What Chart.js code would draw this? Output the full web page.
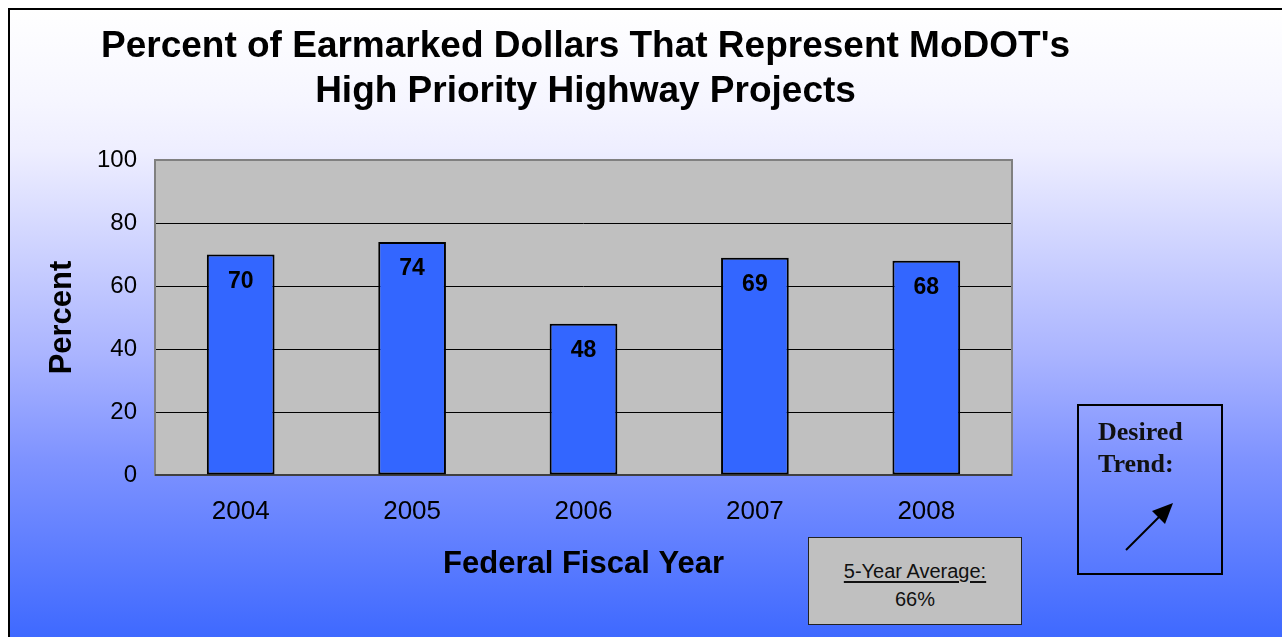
<!DOCTYPE html>
<html>
<head>
<meta charset="utf-8">
<script src="https://cdn.jsdelivr.net/npm/chart.js@4.4.0/dist/chart.umd.min.js"></script>
<style>
  html, body { margin: 0; padding: 0; background: #fff; overflow: hidden; }
  #page {
    position: absolute; left: 8px; top: 8px; width: 1290px; height: 640px;
    border-left: 2px solid #000; border-top: 2px solid #000;
    background: linear-gradient(to bottom, #ffffff 0%, #f6f6ff 14%, #eeeeff 22%, #aab4ff 54%, #7f93ff 70%, #3a66ff 100%);
  }
  #wrap { position: absolute; left: 0; top: 0; width: 1282px; height: 637px; }
  .avg {
    position: absolute; left: 808px; top: 537px; width: 214px; height: 88px;
    background: #c0c0c0; border: 1px solid #222;
    font: 20px "Liberation Sans", Arial, sans-serif; text-align: center; line-height: 28px;
    padding-top: 19px; box-sizing: border-box; color: #111;
  }
  .avg u { text-decoration-thickness: 2px; text-underline-offset: 3px; }
  .trend {
    position: absolute; left: 1077px; top: 404px; width: 146px; height: 171px;
    border: 2px solid #000; box-sizing: border-box;
  }
  .trend .t {
    position: absolute; left: 19px; top: 10px;
    font: bold 26px "Liberation Serif", "Times New Roman", serif; line-height: 32px; color: #111;
  }
  .trend svg { position: absolute; left: 0; top: 0; }
</style>
</head>
<body>
<div id="page"></div>
<div id="wrap"><canvas id="chart" width="1282" height="637"></canvas></div>
<div class="avg"><u>5-Year Average:</u><br>66%</div>
<div class="trend">
  <div class="t">Desired<br>Trend:</div>
  <svg width="146" height="171">
    <line x1="47" y1="144" x2="82" y2="109" stroke="#000" stroke-width="2"/>
    <polygon points="94,97 73,105 86,118" fill="#000"/>
  </svg>
</div>
<script>
var years = ['2004', '2005', '2006', '2007', '2008'];
var percents = [70, 74, 48, 69, 68];
var yTicks = [0, 20, 40, 60, 80, 100];
var titleLines = ["Percent of Earmarked Dollars That Represent MoDOT's", 'High Priority Highway Projects'];

var FONT = '"Liberation Sans", Arial, sans-serif';

var plotFrame = {
  id: 'plotFrame',
  beforeDraw: function (chart) {
    var a = chart.chartArea, ctx = chart.ctx;
    ctx.save();
    ctx.fillStyle = '#c0c0c0';
    ctx.fillRect(a.left, a.top, a.right - a.left, a.bottom - a.top);
    // title, centred over the plot area
    ctx.font = 'bold 37px ' + FONT;
    ctx.fillStyle = '#000';
    ctx.textAlign = 'center';
    ctx.textBaseline = 'middle';
    var cx = (a.left + a.right) / 2 + 2;
    titleLines.forEach(function (t, i) { ctx.fillText(t, cx, 47 + i * 45); });
    ctx.restore();
  },
  beforeDatasetsDraw: function (chart) {
    var a = chart.chartArea, ctx = chart.ctx;
    ctx.save();
    ctx.strokeStyle = '#808080';
    ctx.lineWidth = 2;
    ctx.strokeRect(a.left, a.top, a.right - a.left, a.bottom - a.top);
    ctx.strokeStyle = '#404040';
    ctx.beginPath();
    ctx.moveTo(a.left, a.bottom);
    ctx.lineTo(a.right, a.bottom);
    ctx.stroke();
    ctx.restore();
  },
  afterDatasetsDraw: function (chart) {
    var ctx = chart.ctx;
    var meta = chart.getDatasetMeta(0);
    ctx.save();
    ctx.font = 'bold 23px ' + FONT;
    ctx.fillStyle = '#000';
    ctx.textAlign = 'center';
    ctx.textBaseline = 'middle';
    meta.data.forEach(function (bar, i) {
      ctx.fillText(String(percents[i]), bar.x, bar.y + 27);
    });
    ctx.restore();
  }
};

new Chart(document.getElementById('chart').getContext('2d'), {
  type: 'bar',
  data: {
    labels: years,
    datasets: [{
      data: percents,
      backgroundColor: '#3366ff',
      borderColor: '#000',
      borderWidth: 2,
      borderSkipped: false,
      categoryPercentage: 1,
      barPercentage: 0.395
    }]
  },
  options: {
    responsive: false,
    animation: false,
    layout: { padding: { left: 30, right: 270, top: 160, bottom: 20 } },
    plugins: {
      legend: { display: false },
      tooltip: { enabled: false },
      title: { display: false }
    },
    scales: {
      x: {
        grid: { display: false, drawTicks: false },
        border: { display: false },
        ticks: { color: '#000', font: { family: FONT, size: 26 }, padding: 21 },
        title: {
          display: true,
          text: 'Federal Fiscal Year',
          color: '#000',
          font: { family: FONT, size: 31, weight: 'bold' },
          padding: { top: 0, bottom: 34 }
        },
        afterFit: function (s) { s.height = 142; }
      },
      y: {
        min: 0,
        max: 100,
        afterBuildTicks: function (s) { s.ticks = yTicks.map(function (v) { return { value: v }; }); },
        grid: {
          drawTicks: false,
          color: function (c) { return (c.tick.value === 0 || c.tick.value === 100) ? 'rgba(0,0,0,0)' : '#000'; },
          lineWidth: 1
        },
        border: { display: false },
        ticks: { color: '#000', font: { family: FONT, size: 24 }, padding: 18 },
        title: {
          display: true,
          text: 'Percent',
          color: '#000',
          font: { family: FONT, size: 31, weight: 'bold' },
          padding: { top: 14, bottom: 0 }
        },
        afterFit: function (s) { s.width = 125; }
      }
    }
  },
  plugins: [plotFrame]
});
</script>
</body>
</html>
